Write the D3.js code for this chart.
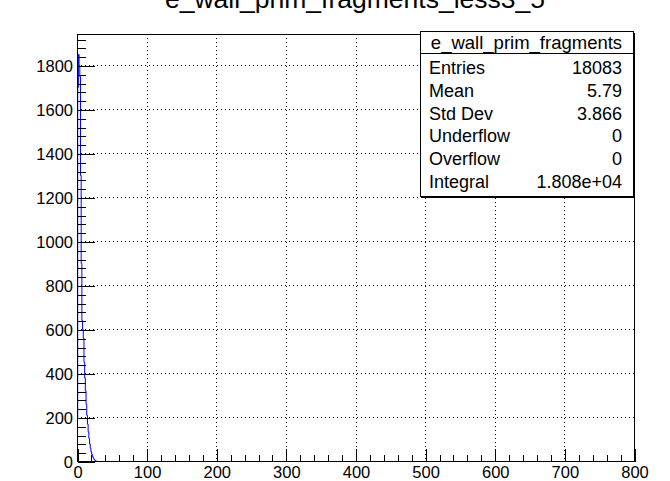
<!DOCTYPE html>
<html>
<head>
<meta charset="utf-8">
<script src="https://cdn.jsdelivr.net/npm/d3@7"></script>
<style>
	body { margin: 0; background: #fff; }
	svg { display: block; }
	text { font-family: "Liberation Sans", Arial, Helvetica, sans-serif; fill: #000; }
</style>
</head>
<body>
<svg id="chart" width="670" height="481"></svg>
<script>
// histogram contents, one bin per unit starting at 0 (later bins are empty)
let title = 'e_wall_prim_fragments_less3_5'
let counts = [200, 1700, 1850, 1800, 1750, 1300, 900, 640, 600, 560, 450, 380, 320, 260,
	210, 170, 135, 105, 80, 60, 45, 33, 24, 17, 11, 7, 4, 2, 1]
let nBins = 800
let xMax = 800
let yMax = 1943
let xTicks = [0, 100, 200, 300, 400, 500, 600, 700, 800]
let yTicks = [0, 200, 400, 600, 800, 1000, 1200, 1400, 1600, 1800]
let xMinorTicks = d3.range(0, 801, 20)
let yMinorTicks = d3.range(0, 1941, 40)

let statsName = 'e_wall_prim_fragments'
let statsLabels = ['Entries', 'Mean', 'Std Dev', 'Underflow', 'Overflow', 'Integral']
let statsValues = ['18083', '5.79', '3.866', '0', '0', '1.808e+04']

let frame = { left: 77, right: 634, top: 34, bottom: 461.5 }

let svg = d3.select('#chart')

let xScale = d3.scaleLinear().domain([0, xMax]).range([frame.left, frame.right])
let yScale = d3.scaleLinear().domain([0, yMax]).range([frame.bottom, frame.top])

function drawGrid() {
	let g = svg.append('g')
		.attr('stroke', '#000')
		.attr('stroke-width', 1)
		.attr('stroke-dasharray', '1,3')
		.attr('shape-rendering', 'crispEdges')
	g.selectAll('.vgrid')
		.data(xTicks.filter(d => d > 0 && d < xMax))
		.enter().append('line')
		.attr('x1', d => Math.round(xScale(d)) + 0.5)
		.attr('x2', d => Math.round(xScale(d)) + 0.5)
		.attr('y1', frame.top)
		.attr('y2', frame.bottom)
	g.selectAll('.hgrid')
		.data(yTicks.filter(d => d > 0))
		.enter().append('line')
		.attr('y1', d => Math.round(yScale(d)) + 0.5)
		.attr('y2', d => Math.round(yScale(d)) + 0.5)
		.attr('x1', frame.left)
		.attr('x2', frame.right)
}

function drawHist() {
	let bins = d3.range(nBins).map(i => ({ x: i, y: counts[i] || 0 }))
	bins.push({ x: nBins, y: 0 })
	let line = d3.line()
		.x(d => xScale(d.x * xMax / nBins))
		.y(d => yScale(d.y))
		.curve(d3.curveStepAfter)
	svg.append('path')
		.datum(bins)
		.attr('d', line)
		.attr('fill', 'none')
		.attr('stroke', '#0000ff')
		.attr('stroke-width', 1)
}

function drawAxis() {
	let leftMinor = svg.append('g')
		.attr('transform', `translate(${frame.left + 0.5}, 0.5)`)
		.attr('shape-rendering', 'crispEdges')
	leftMinor.call(d3.axisLeft(yScale).tickValues(yMinorTicks).tickSize(-8.5).tickFormat(''))

	let leftAxisG = svg.append('g')
		.attr('transform', `translate(${frame.left + 0.5}, 0.5)`)
		.attr('shape-rendering', 'crispEdges')
	leftAxisG.call(d3.axisLeft(yScale).tickValues(yTicks).tickSize(-17).tickPadding(4.5)
		.tickFormat(d3.format('d')))

	let bottomMinor = svg.append('g')
		.attr('transform', `translate(0.5, ${frame.bottom})`)
		.attr('shape-rendering', 'crispEdges')
	bottomMinor.call(d3.axisBottom(xScale).tickValues(xMinorTicks).tickSize(-6.5).tickFormat(''))

	let bottomAxisG = svg.append('g')
		.attr('transform', `translate(0.5, ${frame.bottom})`)
		.attr('shape-rendering', 'crispEdges')
	bottomAxisG.call(d3.axisBottom(xScale).tickValues(xTicks).tickSize(-13).tickPadding(5)
		.tickFormat(d3.format('d')))

	svg.selectAll('.domain').remove()
	svg.selectAll('.tick line').attr('stroke', '#000')
	svg.selectAll('.tick text')
		.attr('font-size', '16.5px')
		.attr('font-family', '"Liberation Sans", Arial, sans-serif')
		.attr('fill', '#000')

	svg.append('rect')
		.attr('x', frame.left + 0.5)
		.attr('y', frame.top + 0.5)
		.attr('width', frame.right - frame.left)
		.attr('height', frame.bottom - frame.top - 0.5)
		.attr('fill', 'none')
		.attr('stroke', '#000')
		.attr('shape-rendering', 'crispEdges')
}

function drawTitle() {
	svg.append('text')
		.attr('x', 355)
		.attr('y', 8)
		.attr('text-anchor', 'middle')
		.attr('font-size', '26.5px')
		.text(title)
}

function drawStats() {
	let box = { x: 420, y: 31, w: 213, h: 165, head: 22 }
	let g = svg.append('g').attr('shape-rendering', 'crispEdges')
	g.append('rect')
		.attr('x', box.x + 1.5).attr('y', box.y + 1.5)
		.attr('width', box.w).attr('height', box.h)
		.attr('fill', '#000')
	g.append('rect')
		.attr('x', box.x + 0.5).attr('y', box.y + 0.5)
		.attr('width', box.w).attr('height', box.h)
		.attr('fill', '#fff').attr('stroke', '#000')
	g.append('line')
		.attr('x1', box.x).attr('x2', box.x + box.w)
		.attr('y1', box.y + box.head + 0.5).attr('y2', box.y + box.head + 0.5)
		.attr('stroke', '#000')

	svg.append('text')
		.attr('x', box.x + box.w / 2)
		.attr('y', box.y + box.head / 2 + 6.5)
		.attr('text-anchor', 'middle')
		.attr('font-size', '18.5px')
		.text(statsName)

	let rowTop = box.y + box.head + 3
	let rowH = 22.8
	let rows = svg.append('g')
	statsLabels.forEach((lab, i) => {
		let cy = rowTop + rowH * (i + 0.5)
		rows.append('text')
			.attr('x', box.x + 9)
			.attr('y', cy + 6.5)
			.attr('font-size', '18px')
			.text(lab)
		rows.append('text')
			.attr('x', box.x + box.w - 11)
			.attr('y', cy + 6.5)
			.attr('text-anchor', 'end')
			.attr('font-size', '18px')
			.text(statsValues[i])
	})
}

drawGrid()
drawHist()
drawAxis()
drawTitle()
drawStats()
</script>
</body>
</html>
